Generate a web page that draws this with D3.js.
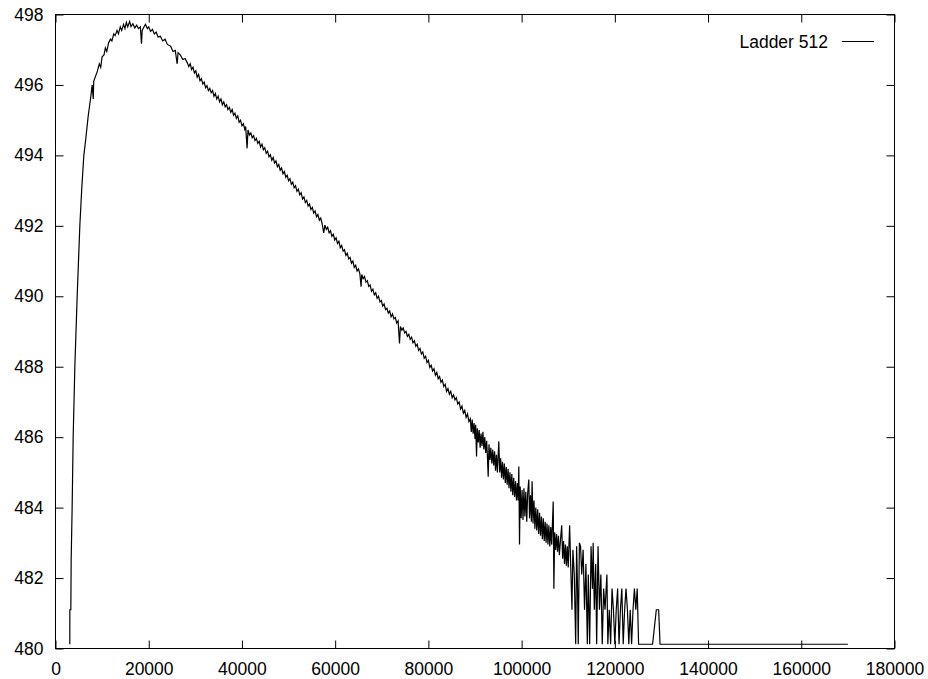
<!DOCTYPE html>
<html>
<head>
<meta charset="utf-8">
<script src="https://cdn.jsdelivr.net/npm/d3@7"></script>
<style>
  body { margin: 0; background: #fff; }
  svg { display: block; font-family: "Liberation Sans", Arial, Helvetica, sans-serif; }
</style>
</head>
<body>
<svg id="chart" width="928" height="679"></svg>
<script>
const width = 928;
const height = 679;
const seriesName = "Ladder 512";

const xTicks = [0, 20000, 40000, 60000, 80000, 100000, 120000, 140000, 160000, 180000];
const yTicks = [480, 482, 484, 486, 488, 490, 492, 494, 496, 498];

// steep climb at the start
const rise = [
  [3070, 480.12], [3080, 481.1], [3290, 481.1], [3360, 482.5], [3570, 484.0],
  [3790, 486.0], [4150, 488.0], [4650, 490.0], [5220, 492.0], [5650, 493.1],
  [6080, 494.0], [6440, 494.4], [7000, 495.1], [7510, 495.6], [7870, 496.0],
  [8100, 495.6], [8200, 496.1], [8600, 496.25]
];

// top of the curve
const peak = [
  [9000, 496.4], [9400, 496.6], [9700, 496.5], [10000, 496.8], [10400, 496.85],
  [10700, 497.05], [11000, 496.95], [11400, 497.2], [11800, 497.3], [12100, 497.25],
  [12500, 497.45], [12800, 497.4], [13200, 497.55], [13500, 497.45], [13900, 497.65],
  [14200, 497.55], [14600, 497.72], [14900, 497.6], [15200, 497.78], [15500, 497.65],
  [15900, 497.8], [16200, 497.66], [16600, 497.74], [17000, 497.62], [17400, 497.7],
  [17800, 497.6], [18200, 497.65], [18450, 497.17], [18600, 497.55], [19000, 497.65],
  [19300, 497.72], [19700, 497.6], [20000, 497.65], [20400, 497.52], [20800, 497.58],
  [21200, 497.45], [21600, 497.5], [22000, 497.36], [22500, 497.38], [23000, 497.25],
  [23500, 497.3], [24000, 497.15], [24700, 497.1], [25200, 496.95], [25700, 496.98],
  [26100, 496.6], [26300, 496.92], [26800, 496.85], [27300, 496.72], [27800, 496.75]
];

// long slope down
const decline = [
  [28300, 496.62], [28600, 496.52], [28900, 496.6], [29200, 496.44], [29500, 496.5],
  [29800, 496.34], [30100, 496.4], [30400, 496.22], [30700, 496.3], [31000, 496.12],
  [31300, 496.18], [31600, 496.03], [31900, 496.08], [32200, 495.92], [32500, 495.98],
  [32800, 495.84], [33100, 495.9], [33400, 495.78], [33700, 495.84], [34000, 495.68],
  [34300, 495.76], [34600, 495.6], [34900, 495.68], [35200, 495.52], [35500, 495.6],
  [35800, 495.44], [36100, 495.52], [36400, 495.38], [36700, 495.44], [37000, 495.3],
  [37300, 495.36], [37600, 495.22], [37900, 495.3], [38200, 495.14], [38500, 495.2],
  [38800, 495.05], [39100, 495.12], [39400, 494.94], [39700, 495.0], [40000, 494.84],
  [40300, 494.9], [40600, 494.74], [40800, 494.82], [41100, 494.2], [41300, 494.72],
  [41600, 494.58], [41900, 494.64], [42200, 494.5], [42500, 494.56], [42800, 494.42],
  [43100, 494.48], [43400, 494.34], [43700, 494.4], [44000, 494.24], [44300, 494.32],
  [44600, 494.16], [44900, 494.22], [45200, 494.06], [45500, 494.12], [45800, 493.96],
  [46100, 494.02], [46400, 493.86], [46700, 493.94], [47000, 493.78], [47300, 493.84],
  [47600, 493.68], [47900, 493.74], [48200, 493.58], [48500, 493.64], [48800, 493.48],
  [49100, 493.54], [49400, 493.38], [49700, 493.44], [50000, 493.28], [50300, 493.34],
  [50600, 493.18], [50900, 493.24], [51200, 493.08], [51500, 493.14], [51800, 492.98],
  [52100, 493.04], [52400, 492.88], [52700, 492.94], [53000, 492.76], [53300, 492.82],
  [53600, 492.66], [53900, 492.72], [54200, 492.56], [54500, 492.62], [54800, 492.46],
  [55100, 492.52], [55400, 492.36], [55700, 492.42], [56000, 492.26], [56300, 492.32],
  [56600, 492.16], [56900, 492.22], [57200, 492.06], [57550, 491.8], [57800, 492.02],
  [58100, 491.9], [58400, 491.96], [58700, 491.8], [59000, 491.86], [59300, 491.7],
  [59600, 491.76], [59900, 491.6], [60200, 491.66], [60500, 491.5], [60800, 491.56],
  [61100, 491.38], [61400, 491.44], [61700, 491.28], [62000, 491.32], [62300, 491.16],
  [62600, 491.22], [62900, 491.06], [63200, 491.1], [63500, 490.94], [63800, 491.0],
  [64100, 490.82], [64400, 490.88], [64700, 490.72], [65000, 490.78], [65300, 490.64],
  [65550, 490.27], [65700, 490.62], [66000, 490.5], [66300, 490.56], [66600, 490.4],
  [66900, 490.44], [67200, 490.28], [67500, 490.32], [67800, 490.14], [68100, 490.2],
  [68400, 490.04], [68700, 490.1], [69000, 489.94], [69300, 490.0], [69600, 489.84],
  [69900, 489.88], [70200, 489.72], [70500, 489.78], [70800, 489.62], [71100, 489.66],
  [71400, 489.52], [71700, 489.58], [72000, 489.42], [72300, 489.5], [72600, 489.36],
  [72900, 489.4], [73200, 489.24], [73500, 489.3], [73800, 488.66], [74000, 489.14],
  [74300, 489.04], [74600, 489.1], [74900, 488.96], [75200, 489.0], [75500, 488.86],
  [75800, 488.92], [76100, 488.78], [76400, 488.84], [76700, 488.68], [77000, 488.74],
  [77300, 488.58], [77600, 488.64], [77900, 488.46], [78200, 488.52], [78500, 488.36],
  [78800, 488.42], [79100, 488.24], [79400, 488.3], [79700, 488.12], [80000, 488.18],
  [80300, 487.98], [80600, 488.04], [80900, 487.88], [81200, 487.94], [81500, 487.76],
  [81800, 487.84], [82100, 487.66], [82400, 487.72], [82700, 487.56], [83000, 487.62],
  [83300, 487.44], [83600, 487.5], [83900, 487.3], [84200, 487.38], [84500, 487.22],
  [84800, 487.3], [85100, 487.12], [85400, 487.2], [85700, 487.06], [86000, 487.12],
  [86300, 486.94], [86600, 487.0], [86900, 486.8], [87200, 486.88], [87500, 486.68],
  [87800, 486.76], [88100, 486.56], [88400, 486.66], [88700, 486.44], [89000, 486.52]
];

// noisy part where the counts get small
const noisyTail = [
  [89200, 486.15], [89400, 486.5], [89600, 486.1], [89800, 486.4], [90000, 485.95],
  [90150, 486.35], [90330, 485.45], [90500, 486.25], [90700, 485.85], [90900, 486.2],
  [91100, 485.7], [91300, 486.1], [91500, 485.75], [91700, 486.15], [91900, 485.65],
  [92100, 486.0], [92300, 485.55], [92500, 485.9], [92650, 485.5], [92830, 484.88],
  [93000, 485.8], [93200, 485.35], [93400, 485.7], [93600, 485.25], [93800, 485.65],
  [94000, 485.2], [94200, 485.6], [94400, 485.05], [94600, 485.5], [94800, 485.0],
  [95110, 485.88], [95300, 485.0], [95500, 485.4], [95700, 484.85], [95900, 485.3],
  [96100, 484.8], [96300, 485.25], [96500, 484.7], [96700, 485.15], [96900, 484.65],
  [97100, 485.1], [97300, 484.55], [97500, 485.0], [97700, 484.45], [97900, 484.95],
  [98100, 484.35], [98300, 484.85], [98500, 484.3], [98700, 484.75], [98900, 484.2],
  [99100, 484.7], [99250, 484.2], [99400, 485.17], [99550, 482.95], [99700, 484.6],
  [99900, 483.7], [100100, 484.5], [100300, 483.65], [100500, 484.55], [100700, 483.75],
  [100900, 484.45], [101100, 483.6], [101300, 484.4], [101540, 484.8], [101700, 483.7],
  [101900, 484.35], [102100, 483.6], [102250, 484.75], [102450, 483.55], [102650, 484.2],
  [102850, 483.4], [103050, 484.0], [103250, 483.35], [103450, 483.95], [103650, 483.25],
  [103850, 483.85], [104050, 483.2], [104250, 483.75], [104450, 483.1], [104650, 483.7],
  [104850, 483.05], [105050, 483.6], [105250, 483.0], [105450, 483.55], [105650, 482.95],
  [105850, 483.5], [106050, 482.9], [106250, 483.45], [106450, 482.95], [106780, 484.17],
  [106920, 481.7], [107100, 483.3], [107300, 482.8], [107500, 483.25], [107700, 482.75],
  [107900, 483.2], [108100, 482.65], [108350, 483.1], [108600, 483.5], [108800, 482.55],
  [109000, 483.05], [109200, 482.4], [109400, 482.95], [109600, 482.35], [109800, 482.9],
  [110000, 482.3], [110300, 483.5], [110500, 482.5], [110800, 481.1], [111000, 482.8],
  [111300, 482.1], [111600, 480.12], [111800, 482.9], [112000, 481.7], [112150, 480.12],
  [112400, 483.0], [112650, 482.9], [112900, 482.1], [113200, 482.8], [113500, 481.1],
  [113800, 482.4], [114100, 480.12], [114300, 482.1], [114600, 480.12], [114900, 482.9],
  [115200, 481.7], [115350, 483.0], [115600, 481.1], [115900, 482.4], [116100, 480.12],
  [116400, 482.9], [116700, 481.1], [117000, 482.1], [117300, 480.12], [117600, 481.7],
  [117900, 481.1], [118300, 482.1], [118500, 480.12], [118800, 481.1], [119100, 480.12],
  [119400, 481.7], [119700, 481.1], [120000, 480.12], [120300, 481.1], [120600, 481.7],
  [120900, 480.12], [121200, 481.1], [121500, 481.7], [121800, 480.12], [122100, 481.1],
  [122400, 481.7], [122700, 481.1], [123000, 480.12], [123300, 481.1], [123600, 480.12],
  [123900, 481.1], [124200, 481.7], [124500, 481.1], [124800, 481.7], [125100, 480.12]
];

// flat floor at the end, with one small bump
const floor = [
  [128100, 480.12], [128900, 481.1], [129400, 481.1], [129700, 480.12], [170000, 480.12]
];

const data = [].concat(rise, peak, decline, noisyTail, floor);

const svg = d3.select("#chart");

const x = d3.scaleLinear().domain([0, 180000]).range([55.5, 894.5]);
const y = d3.scaleLinear().domain([480, 498]).range([648.5, 14.5]);

const tickLen = 8;
const fontSize = 17.5;

// border box
svg.append("rect")
  .attr("x", x(0)).attr("y", y(498))
  .attr("width", x(180000) - x(0)).attr("height", y(480) - y(498))
  .attr("fill", "none").attr("stroke", "#000").attr("stroke-width", 1);

function styleAxis(g) {
  g.select(".domain").remove();
  g.selectAll(".tick line").attr("stroke", "#000");
  g.selectAll(".tick text")
    .attr("fill", "#000")
    .attr("font-size", fontSize)
    .attr("font-family", null);
}

svg.append("g")
  .attr("transform", `translate(0,${y(480)})`)
  .call(d3.axisBottom(x).tickValues(xTicks).tickFormat(d3.format("d"))
    .tickSizeInner(-tickLen).tickSizeOuter(0).tickPadding(14))
  .call(styleAxis);

svg.append("g")
  .attr("transform", `translate(0,${y(498)})`)
  .call(d3.axisTop(x).tickValues(xTicks).tickFormat("")
    .tickSizeInner(-tickLen).tickSizeOuter(0))
  .call(styleAxis);

svg.append("g")
  .attr("transform", `translate(${x(0)},0)`)
  .call(d3.axisLeft(y).tickValues(yTicks).tickFormat(d3.format("d"))
    .tickSizeInner(-tickLen).tickSizeOuter(0).tickPadding(12))
  .call(styleAxis);

svg.append("g")
  .attr("transform", `translate(${x(180000)},0)`)
  .call(d3.axisRight(y).tickValues(yTicks).tickFormat("")
    .tickSizeInner(-tickLen).tickSizeOuter(0))
  .call(styleAxis);

// the series
const line = d3.line().x(d => x(d[0])).y(d => y(d[1]));

svg.append("path")
  .datum(data)
  .attr("d", line)
  .attr("fill", "none")
  .attr("stroke", "#000")
  .attr("stroke-width", 1.2);

// key, top right like gnuplot
const key = svg.append("g");
key.append("text")
  .attr("x", 828)
  .attr("y", 47.5)
  .attr("text-anchor", "end")
  .attr("font-size", fontSize)
  .attr("fill", "#000")
  .text(seriesName);
key.append("line")
  .attr("x1", 842).attr("x2", 874)
  .attr("y1", 41.5).attr("y2", 41.5)
  .attr("stroke", "#000").attr("stroke-width", 1);
</script>
</body>
</html>
